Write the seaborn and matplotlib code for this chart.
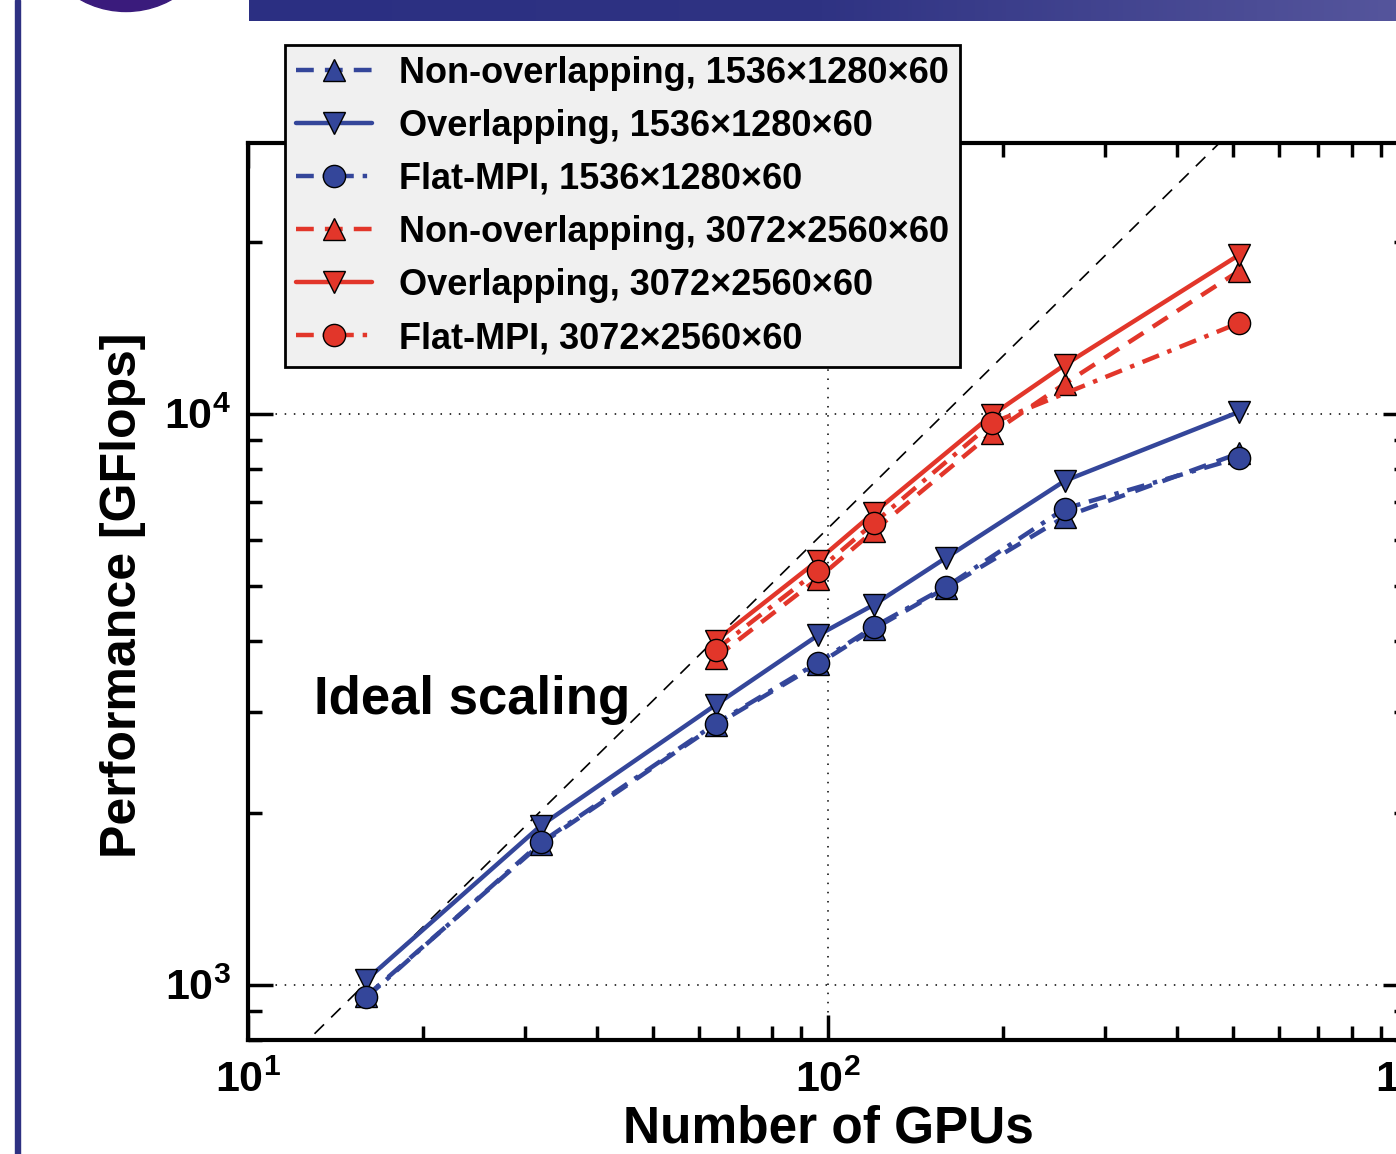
import matplotlib
matplotlib.use("Agg")
import matplotlib.pyplot as plt
import matplotlib.patches as mpatches
import numpy as np
import seaborn as sns

# Data (GFlops vs number of GPUs)
gpus_small = [16, 32, 64, 96, 120, 160, 256, 512]
nonoverlap_small = [955, 1765, 2850, 3640, 4200, 4960, 6600, 8530]
overlap_small = [1020, 1900, 3090, 4090, 4630, 5600, 7630, 10080]
flatmpi_small = [950, 1775, 2865, 3665, 4235, 4980, 6820, 8375]

gpus_large = [64, 96, 120, 192, 256, 512]
nonoverlap_large = [3740, 5140, 6240, 9260, 11290, 17800]
overlap_large = [4000, 5530, 6710, 9960, 12180, 18990]
gpus_large_flat = [64, 96, 120, 192, 512]
flatmpi_large = [3860, 5310, 6440, 9640, 14430]

ideal_gpus = [10, 1000]
ideal_perf = [630, 63000]

labels = ["Non-overlapping, 1536×1280×60",
          "Overlapping, 1536×1280×60",
          "Flat-MPI, 1536×1280×60",
          "Non-overlapping, 3072×2560×60",
          "Overlapping, 3072×2560×60",
          "Flat-MPI, 3072×2560×60"]
xtick_vals = [10, 100, 1000]
xtick_labels = [r"$\mathbf{10^{1}}$", r"$\mathbf{10^{2}}$", r"$\mathbf{10^{3}}$"]
ytick_vals = [1000, 10000]
ytick_labels = [r"$\mathbf{10^{3}}$", r"$\mathbf{10^{4}}$"]

blue = "#34469a"
red = "#e2362a"

sns.set_theme(style="white")
plt.rcParams["font.family"] = ["Liberation Sans", "DejaVu Sans"]
plt.rcParams["font.weight"] = "bold"
plt.rcParams["mathtext.fontset"] = "custom"
plt.rcParams["mathtext.rm"] = "Liberation Sans:bold"
plt.rcParams["mathtext.bf"] = "Liberation Sans:bold"
for k in ["text.color", "axes.labelcolor", "xtick.color", "ytick.color", "axes.edgecolor"]:
    plt.rcParams[k] = "black"

W, H = 1396, 1154
fig = plt.figure(figsize=(W / 100, H / 100), dpi=100)
fig.patch.set_facecolor("white")

# slide decorations
fig.add_artist(mpatches.Rectangle((15 / W, 0), 5 / W, 1, transform=fig.transFigure,
                                  color="#2e3182", zorder=0))
fig.add_artist(mpatches.Ellipse((126 / W, 1 + 82 / H), 187 / W, 187 / H,
                                transform=fig.transFigure, color="#3a1b7c", zorder=0))
bar_ax = fig.add_axes([249 / W, 1 - 21 / H, 1 - 249 / W, 21 / H])
grad = np.linspace(0, 1, 256).reshape(1, -1)
bar_cmap = matplotlib.colors.LinearSegmentedColormap.from_list("bar", ["#2b2f82", "#2f3383", "#55559c"])
bar_ax.imshow(grad, aspect="auto", cmap=bar_cmap)
bar_ax.axis("off")

ax = fig.add_axes([248 / W, 1 - 1040 / H, (1408 - 248) / W, (1040 - 143) / H])
ax.set_xscale("log")
ax.set_yscale("log")

dash = (0, (4, 2.5))
dashdot = (0, (4, 2, 1, 2))
series = [
    (gpus_small, nonoverlap_small, labels[0], blue, "^", dash),
    (gpus_small, overlap_small, labels[1], blue, "v", "-"),
    (gpus_small, flatmpi_small, labels[2], blue, "o", dashdot),
    (gpus_large, nonoverlap_large, labels[3], red, "^", dash),
    (gpus_large, overlap_large, labels[4], red, "v", "-"),
    (gpus_large_flat, flatmpi_large, labels[5], red, "o", dashdot),
]

sns.lineplot(x=ideal_gpus, y=ideal_perf, ax=ax, color="black", linewidth=1.2,
             linestyle=(0, (8, 6)))

for xs, ys, lab, col, mk, ls in series:
    sns.lineplot(x=xs, y=ys, ax=ax, label=lab, color=col, linestyle=ls, linewidth=3.2,
                 marker=mk, markersize=16, markerfacecolor=col,
                 markeredgecolor="black", markeredgewidth=1)

ax.set_xlim(10, 1000)
ax.set_ylim(800, 29800)
ax.set_xticks(xtick_vals, xtick_labels)
ax.set_yticks(ytick_vals, ytick_labels)
ax.grid(which="major", color="black", linestyle=(0, (1, 5)), linewidth=1.1)
for s in ax.spines.values():
    s.set_linewidth(3)
    s.set_color("black")
ax.tick_params(which="both", direction="in", top=True, right=True, width=2.5,
               bottom=True, left=True)
ax.tick_params(which="major", length=18, labelsize=31)
ax.tick_params(axis="x", which="major", pad=15)
ax.tick_params(axis="y", which="major", pad=12)
ax.tick_params(which="minor", length=10)

ax.set_xlabel("Number of GPUs", fontsize=37, fontweight="bold")
ax.set_ylabel("Performance [GFlops]", fontsize=36, fontweight="bold")
ax.xaxis.set_label_coords(0.5, -0.072)
ax.yaxis.set_label_coords(-0.088, 0.496)

ax.text(13.0, 2983, "Ideal scaling", fontsize=38, fontweight="bold",
        ha="left", va="baseline")

handles, labs = ax.get_legend_handles_labels()
leg = ax.legend(handles, labs, loc="upper left",
                bbox_to_anchor=(285 / W, 1 - 45 / H), bbox_transform=fig.transFigure,
                prop={"family": "Liberation Sans", "weight": "bold", "size": 26},
                frameon=True, fancybox=False, edgecolor="black", facecolor="#f0f0f0",
                framealpha=1, borderpad=0.3, handlelength=2.1, handletextpad=0.75,
                labelspacing=0.5, borderaxespad=0)
leg.get_frame().set_linewidth(2)

fig.savefig("out.png", dpi=100)
